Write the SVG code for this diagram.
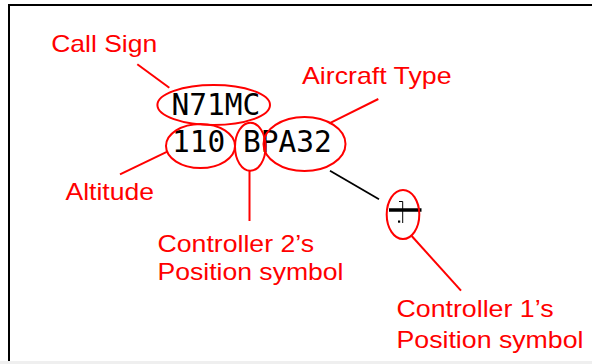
<svg xmlns="http://www.w3.org/2000/svg" width="592" height="364" viewBox="0 0 592 364">
<style>
.lbl{font-family:"Liberation Sans",Arial,sans-serif;font-size:24px;fill:#ff0000}
.mono{font-family:"DejaVu Sans Mono",monospace;font-size:29.5px;fill:#000}
.ring{fill:none;stroke:#ff0000;stroke-width:2}
.lead{stroke:#ff0000;stroke-width:2;fill:none}
</style>
<rect x="0" y="0" width="592" height="364" fill="#fff"/>
<rect x="0" y="361" width="592" height="3" fill="#efefef"/>
<path d="M9,361 V5 H592" fill="none" stroke="#000" stroke-width="2"/>

<g id="datablock">
<text class="mono" x="171.5" y="115">N71MC</text>
<text class="mono" x="172" y="152">110 BPA32</text>
</g>

<g id="callsign-ring"><ellipse class="ring" cx="213.7" cy="105" rx="56.3" ry="20"/></g>
<g id="altitude-ring"><ellipse class="ring" cx="200.5" cy="146" rx="34.5" ry="22"/></g>
<g id="c2-ring"><ellipse class="ring" cx="250.3" cy="146.7" rx="15.3" ry="24"/></g>
<g id="type-ring"><ellipse class="ring" cx="304.5" cy="144" rx="41" ry="27"/></g>

<g id="position-symbol">
<line x1="389" y1="210" x2="421.5" y2="210" stroke="#000" stroke-width="3.5"/>
<polyline points="399,201.5 402.7,201.5 402.7,223" fill="none" stroke="#000" stroke-width="1"/>
<rect x="398" y="220.5" width="2.2" height="2.2" fill="#000"/>
</g>
<g id="c1-ring"><ellipse class="ring" cx="403" cy="214.5" rx="16.3" ry="24.5"/></g>

<g id="label-callsign"><text class="lbl" x="51.2" y="52" textLength="106" lengthAdjust="spacingAndGlyphs">Call Sign</text></g>
<g id="label-type"><text class="lbl" x="302" y="84.3" textLength="149.5" lengthAdjust="spacingAndGlyphs">Aircraft Type</text></g>
<g id="label-altitude"><text class="lbl" x="65.5" y="200" textLength="88.5" lengthAdjust="spacingAndGlyphs">Altitude</text></g>
<g id="label-c2">
<text class="lbl" x="157.5" y="251.7" textLength="156.5" lengthAdjust="spacingAndGlyphs">Controller 2’s</text>
<text class="lbl" x="157.5" y="280" textLength="186" lengthAdjust="spacingAndGlyphs">Position symbol</text>
</g>
<g id="label-c1">
<text class="lbl" x="396.5" y="317.3" textLength="157" lengthAdjust="spacingAndGlyphs">Controller 1’s</text>
<text class="lbl" x="396.5" y="348.3" textLength="187" lengthAdjust="spacingAndGlyphs">Position symbol</text>
</g>

<g id="connectors">
<line class="lead" x1="137.3" y1="64.3" x2="169.3" y2="87.7"/>
<line class="lead" x1="378.3" y1="99" x2="329.3" y2="123.3"/>
<line class="lead" x1="120" y1="174.3" x2="167.3" y2="151.7"/>
<line class="lead" x1="249.5" y1="170.7" x2="249.5" y2="221"/>
<line class="lead" x1="411.7" y1="236" x2="461" y2="290.7"/>
<line x1="330" y1="170.7" x2="379" y2="199.3" stroke="#000" stroke-width="1.8"/>
</g>
</svg>
